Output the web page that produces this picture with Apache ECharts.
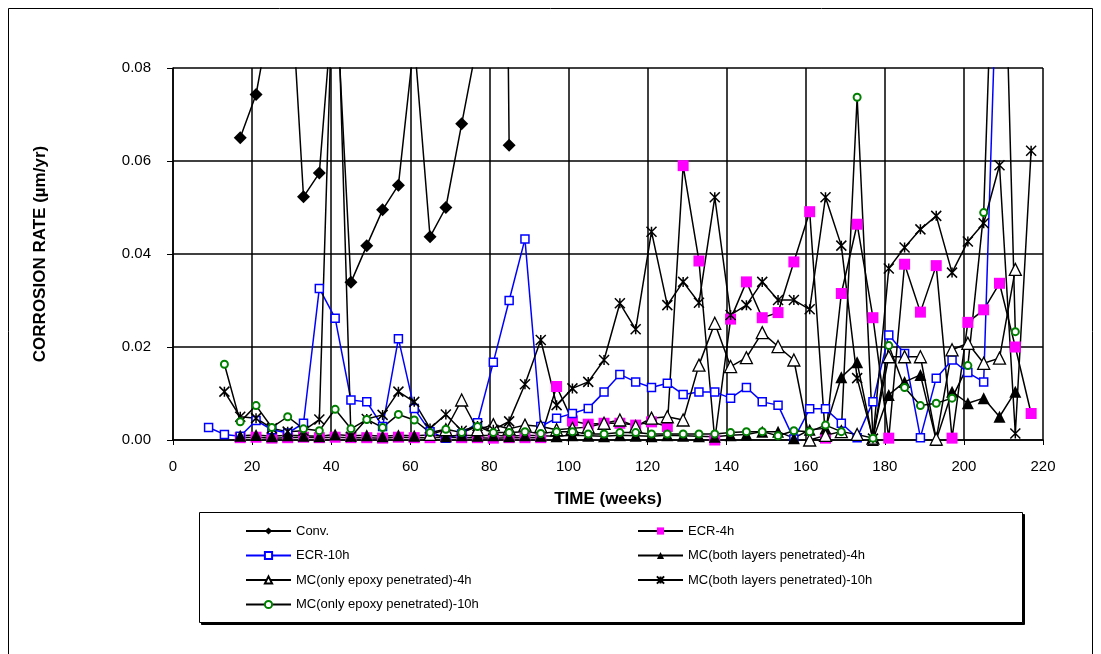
<!DOCTYPE html>
<html><head><meta charset="utf-8">
<script src="https://cdn.jsdelivr.net/npm/echarts@6/dist/echarts.min.js"></script>
<style>html,body{margin:0;padding:0;background:#fff}#c{width:1101px;height:654px}</style>
</head><body><div id="c"></div>
<script>
const weeks = [9,13,17,21,25,29,33,37,41,45,49,53,57,61,65,69,73,77,81,85,89,93,97,101,105,109,113,117,121,125,129,133,137,141,145,149,153,157,161,165,169,173,177,181,185,189,193,197,201,205,209,213,217];

const conv = [null,null,0.065,0.0743,0.093,0.11,0.0523,0.0574,0.10,0.0339,
  0.0418,0.0495,0.0548,0.086,0.0437,0.050,0.068,0.0857,0.4,0.0634,
  null,null,null,null,null,null,null,null,null,null,
  null,null,null,null,null,null,null,null,null,null,
  null,null,null,null,null,null,null,null,null,null,
  null,null,null];

const ecr4h = [null,null,0.0005,0.0006,0.0004,0.0005,0.0006,0.0005,0.0006,0.0005,
  0.0005,0.0004,0.0006,0.0005,0.0005,0.0006,0.0005,0.0005,0.0004,0.0005,
  0.0005,0.0005,0.0115,0.0041,0.0034,0.0036,0.0036,0.0032,0.0039,0.0029,
  0.059,0.0385,0.0,0.026,0.034,0.0263,0.0274,0.0383,0.0491,0.0004,
  0.0315,0.0464,0.0263,0.0004,0.0378,0.0275,0.0375,0.0004,0.0253,0.028,
  0.0337,0.020,0.0057];

const ecr10h = [0.0027,0.0012,0.0008,0.0042,0.0022,0.0015,0.0036,0.0326,0.0262,0.0086,
  0.0082,0.0029,0.0218,0.0068,0.0018,0.0004,0.0013,0.0037,0.0167,0.030,
  0.0432,0.0029,0.0047,0.0057,0.0068,0.0103,0.0141,0.0125,0.0113,0.0122,
  0.0098,0.0103,0.0103,0.009,0.0113,0.0082,0.0075,0.0002,0.0067,0.0067,
  0.0036,0.0005,0.0082,0.0226,0.0186,0.0005,0.0133,0.0172,0.0145,0.0125,
  0.12,null,null];

const mcBoth4h = [null,null,0.0009,0.0011,0.0008,0.001,0.0009,0.0008,0.0012,0.0009,
  0.001,0.0008,0.001,0.0009,0.0011,0.0008,0.001,0.0009,0.001,0.0008,
  0.001,0.0009,0.0008,0.001,0.0009,0.0008,0.001,0.0009,0.0008,0.001,
  0.0009,0.0008,0.0007,0.001,0.0012,0.0018,0.0018,0.0004,0.0022,0.0025,
  0.0135,0.0167,0.0,0.0097,0.0125,0.014,0.0,0.0104,0.0079,0.009,
  0.005,0.0104,null];

const mcOnly4h = [null,null,null,null,null,null,null,null,null,null,
  null,null,null,null,0.0012,0.0022,0.0086,0.0022,0.0033,0.0024,
  0.0032,0.0029,0.0022,0.0025,0.0028,0.0036,0.0043,0.0029,0.0047,0.005,
  0.0043,0.0161,0.0251,0.0158,0.0177,0.0231,0.0201,0.0172,0.0,0.001,
  0.0018,0.0012,0.0004,0.0179,0.0179,0.0179,0.0002,0.0194,0.0208,0.0165,
  0.0176,0.0367,null];

const mcBoth10h = [null,0.0104,0.005,0.0047,0.0025,0.0018,0.002,0.0044,0.115,0.0007,
  0.0045,0.0054,0.0104,0.0082,0.0025,0.0055,0.002,0.003,0.0022,0.004,
  0.012,0.0215,0.0075,0.0111,0.0125,0.0172,0.0294,0.0238,0.0448,0.029,
  0.034,0.0295,0.0522,0.0269,0.029,0.034,0.0301,0.0301,0.0281,0.0522,
  0.0418,0.0133,0.0003,0.0369,0.0414,0.0453,0.0482,0.036,0.0427,0.0466,
  0.0591,0.0014,0.0622];

const mcOnly10h = [null,0.0163,0.0039,0.0074,0.0027,0.005,0.0024,0.002,0.0066,0.0024,
  0.0044,0.0027,0.0055,0.0043,0.0016,0.0023,0.0016,0.0029,0.0016,0.0016,
  0.0018,0.0014,0.0018,0.0018,0.0013,0.0013,0.0016,0.0016,0.0013,0.0013,
  0.0013,0.0013,0.0013,0.0016,0.0018,0.0018,0.0009,0.002,0.0018,0.0032,
  0.0018,0.0737,0.0004,0.0203,0.0113,0.0074,0.0079,0.009,0.016,0.0489,
  0.15,0.0233,null];

const xTicks = [0,20,40,60,80,100,120,140,160,180,200,220];
const yTicks = [0.00,0.02,0.04,0.06,0.08];

function pairs(arr){ const out=[]; arr.forEach((v,i)=>{ if(v!==null) out.push([weeks[i],v]); }); return out; }

const FONT = "'Liberation Sans', Arial, sans-serif";
const STAR = 'path://M0,0L10,10M10,0L0,10M5,0L5,10';

function mk(name, data, symbol, size, fill, stroke, bw, lineColor){
  return {
    name, type:'line', data: pairs(data), symbol, symbolSize: size,
    showSymbol:true, clip:true, connectNulls:false,
    lineStyle:{color:lineColor, width:1.5},
    itemStyle:{color:fill, borderColor:stroke, borderWidth:bw, opacity:1},
    emphasis:{disabled:true}
  };
}

const series = [
  mk('Conv.', conv, 'diamond', 13, '#000', '#000', 0, '#000'),
  mk('ECR-4h', ecr4h, 'rect', 11, '#FF00FF', '#FF00FF', 0, '#000'),
  mk('ECR-10h', ecr10h, 'rect', 8, '#fff', '#0000FF', 1.5, '#0000FF'),
  mk('MC(both layers penetrated)-4h', mcBoth4h, 'triangle', 12, '#000', '#000', 0, '#000'),
  mk('MC(only epoxy penetrated)-4h', mcOnly4h, 'triangle', 12, '#fff', '#000', 1.3, '#000'),
  mk('MC(both layers penetrated)-10h', mcBoth10h, STAR, 10, '#000', '#000', 1.5, '#000'),
  mk('MC(only epoxy penetrated)-10h', mcOnly10h, 'circle', 7, '#fff', '#008000', 2, '#000')
];

const legendCommon = {
  orient:'vertical', itemWidth:45, itemHeight:9, itemGap:10.5,
  textStyle:{fontFamily:FONT, fontSize:13, color:'#000', lineHeight:14},
  selectedMode:false
};

const chart = echarts.init(document.getElementById('c'), null, {renderer:'canvas'});
chart.setOption({
  animation:false,
  backgroundColor:'#fff',
  grid:{left:173, right:58, top:68, bottom:214, containLabel:false, outerBoundsMode:'none'},
  xAxis:{
    type:'value', min:0, max:220, interval:20,
    name:'TIME (weeks)', nameLocation:'middle', nameGap:51,
    nameTextStyle:{fontFamily:FONT, fontSize:17, fontWeight:'bold', color:'#000'},
    axisLine:{show:true, lineStyle:{color:'#000', width:1.5}},
    axisTick:{show:true, length:5, lineStyle:{color:'#000'}},
    axisLabel:{fontFamily:FONT, fontSize:15, color:'#000', margin:19,
      formatter:v=> xTicks.includes(v) ? String(v) : ''},
    splitLine:{show:true, lineStyle:{color:'#000', width:1.5}}
  },
  yAxis:{
    type:'value', min:0, max:0.08, interval:0.02,
    name:'CORROSION RATE (µm/yr)', nameLocation:'middle', nameRotate:90, nameGap:124,
    nameTextStyle:{fontFamily:FONT, fontSize:17, fontWeight:'bold', color:'#000'},
    axisLine:{show:true, lineStyle:{color:'#000', width:1.5}},
    axisTick:{show:true, length:6, lineStyle:{color:'#000'}},
    axisLabel:{fontFamily:FONT, fontSize:15, color:'#000', margin:22,
      formatter:v=> yTicks.some(t=>Math.abs(t-v)<1e-9) ? v.toFixed(2) : ''},
    splitLine:{show:true, lineStyle:{color:'#000', width:1.5}}
  },
  legend:[
    Object.assign({}, legendCommon, {left:240, top:519,
      data:['Conv.','ECR-10h','MC(only epoxy penetrated)-4h','MC(only epoxy penetrated)-10h']}),
    Object.assign({}, legendCommon, {left:632, top:519,
      data:['ECR-4h','MC(both layers penetrated)-4h','MC(both layers penetrated)-10h']})
  ],
  graphic:[
    {type:'rect', silent:true, shape:{x:8.5, y:8.5, width:1084, height:660}, style:{fill:'none', stroke:'#000', lineWidth:1}},
    {type:'rect', silent:true, shape:{x:201.5, y:514.5, width:823, height:110}, style:{fill:'#000', stroke:'#000', lineWidth:1}},
    {type:'rect', silent:true, shape:{x:199.5, y:512.5, width:823, height:110}, style:{fill:'#fff', stroke:'#000', lineWidth:1}}
  ],
  series
});
</script></body></html>
